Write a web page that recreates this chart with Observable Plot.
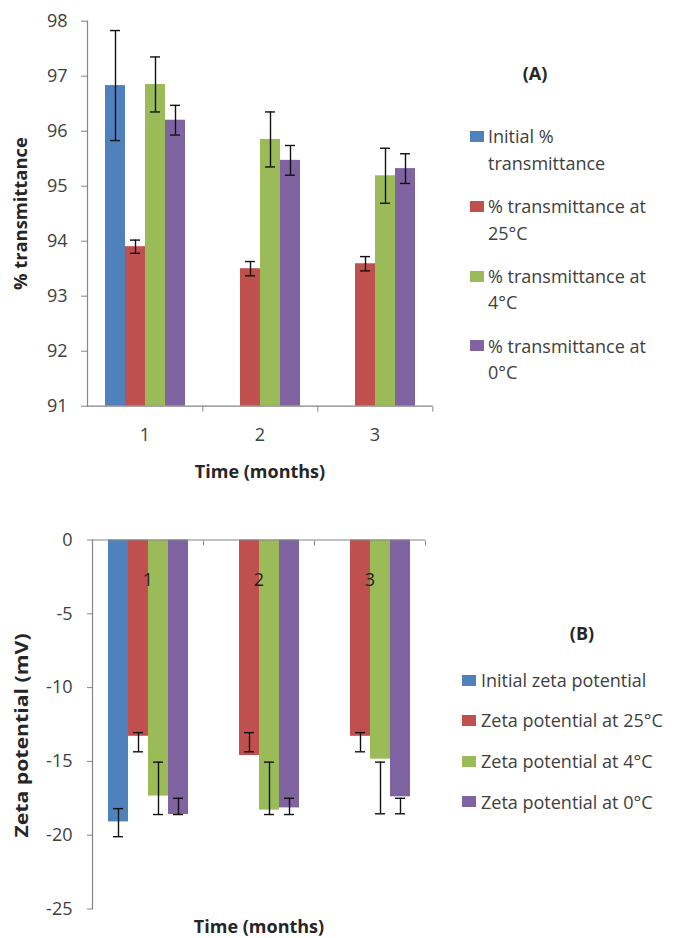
<!DOCTYPE html>
<html>
<head>
<meta charset="utf-8">
<script src="https://cdn.jsdelivr.net/npm/d3@7"></script>
<script src="https://cdn.jsdelivr.net/npm/@observablehq/plot@0.6"></script>
<style>
  body { margin: 0; background: #fff; }
  #root { position: relative; width: 689px; height: 938px; overflow: hidden;
          font-family: "Open Sans", sans-serif; color: #404040; }
  .abs { position: absolute; }
  .panel { font-weight: bold; font-size: 18px; color: #262626; transform: translate(-50%, -50%); white-space: nowrap; }
  .item { position: absolute; font-size: 18px; line-height: 26.5px; }
  .sw { position: absolute; width: 14px; height: 11px; }
  svg { overflow: visible; }
</style>
</head>
<body>
<div id="root"></div>
<script>
// ---------- data ----------
const months = ["1", "2", "3"];
const colors = ["#4F81BD", "#C0504D", "#9BBB59", "#8064A2"];

// Panel A: % transmittance
const transSeries = ["Initial % transmittance", "% transmittance at 25°C", "% transmittance at 4°C", "% transmittance at 0°C"];
const transInitial = [96.83, null, null];
const trans25 = [93.90, 93.50, 93.59];
const trans4 = [96.85, 95.85, 95.19];
const trans0 = [96.20, 95.47, 95.32];
const transInitialErr = [1.0, null, null];
const trans25Err = [0.12, 0.13, 0.13];
const trans4Err = [0.50, 0.50, 0.50];
const trans0Err = [0.27, 0.27, 0.27];
const transTicks = [91, 92, 93, 94, 95, 96, 97, 98];
const transBase = 91;

// Panel B: zeta potential (mV)
const zetaSeries = ["Initial zeta potential", "Zeta potential at 25°C", "Zeta potential at 4°C", "Zeta potential at 0°C"];
const zetaInitial = [-19.1, null, null];
const zeta25 = [-13.3, -14.6, -13.3];
const zeta4 = [-17.35, -18.3, -14.85];
const zeta0 = [-18.6, -18.15, -17.4];
// error bar ends [low, high]
const zetaInitialErr = [[-20.1, -18.2], null, null];
const zeta25Err = [[-14.35, -13.05], [-14.35, -13.05], [-14.35, -13.05]];
const zeta4Err = [[-18.6, -15.05], [-18.6, -15.05], [-18.55, -15.05]];
const zeta0Err = [[-18.6, -17.5], [-18.6, -17.5], [-18.55, -17.5]];
const zetaTicks = [-25, -20, -15, -10, -5, 0];

// ---------- tables ----------
const transValues = [transInitial, trans25, trans4, trans0];
const transErrs = [transInitialErr, trans25Err, trans4Err, trans0Err];
const rowsA = transSeries.flatMap((s, i) => months.map((m, j) => ({
  month: m, series: s, value: transValues[i][j], err: transErrs[i][j]
}))).filter(d => d.value != null).map(d => ({...d, lo: d.value - d.err, hi: d.value + d.err}));

const zetaValues = [zetaInitial, zeta25, zeta4, zeta0];
const zetaErrs = [zetaInitialErr, zeta25Err, zeta4Err, zeta0Err];
const rowsB = zetaSeries.flatMap((s, i) => months.map((m, j) => ({
  month: m, series: s, value: zetaValues[i][j], err: zetaErrs[i][j]
}))).filter(d => d.value != null).map(d => ({...d, lo: d.err[0], hi: d.err[1]}));

const root = document.getElementById("root");
const axisGray = "#868686";
const textCol = "#404040";
const plainNum = d => String(d);

function styleLabels(svg, yShift, yStretch) {
  const s = d3.select(svg);
  s.selectAll('[aria-label="fx-axis label"] text').attr("font-weight", "bold").attr("fill", "#262626");
  s.selectAll('[aria-label="y-axis label"] text').each(function () {
    const t = d3.select(this);
    t.attr("font-weight", "bold").attr("fill", "#262626");
    const tr = t.attr("transform") || "";
    t.attr("transform", tr + ` translate(${-yShift},0) scale(${yStretch},1)`);
  });
}

// ---------- Panel A ----------
{
  const W = 689, H = 490, mL = 86, mR = 256;
  const bw = (W - mL - mR) / months.length;
  const chart = Plot.plot({
    width: W, height: H,
    marginLeft: mL, marginRight: mR, marginTop: 20.7, marginBottom: H - 405.7,
    style: { fontFamily: "Open Sans", fontSize: "18px", color: textCol, background: "transparent", overflow: "visible" },
    fx: { domain: months, padding: 0 },
    x: { domain: transSeries, paddingInner: 0, paddingOuter: 0.79, axis: null },
    y: { domain: [91, 98] },
    color: { domain: transSeries, range: colors },
    marks: [
      Plot.barY(rowsA, { fx: "month", x: "series", y1: transBase, y2: "value", fill: "series" }),
      Plot.ruleX(rowsA, { fx: "month", x: "series", y1: "lo", y2: "hi", stroke: "#111", strokeWidth: 1.4 }),
      Plot.tickY(rowsA, { fx: "month", x: "series", y: "lo", stroke: "#111", strokeWidth: 1.4, insetLeft: 5, insetRight: 5 }),
      Plot.tickY(rowsA, { fx: "month", x: "series", y: "hi", stroke: "#111", strokeWidth: 1.4, insetLeft: 5, insetRight: 5 }),
      Plot.ruleY([transBase], { stroke: axisGray, strokeWidth: 1.2 }),
      Plot.frame({ anchor: "left", facetAnchor: "left", stroke: axisGray, strokeWidth: 1.2 }),
      Plot.axisY({ ticks: transTicks, tickFormat: plainNum, tickSize: 6, tickPadding: 14, stroke: axisGray, fill: textCol,
        label: "% transmittance", labelArrow: "none", labelAnchor: "center", labelOffset: 73 }),
      Plot.axisFx({ anchor: "bottom", tickSize: 0, tickPadding: 22, fill: textCol,
        label: "Time (months)", labelAnchor: "center", labelOffset: 72 }),
      Plot.axisFx({ anchor: "bottom", tickSize: 6, tickFormat: () => "", dx: bw / 2, stroke: axisGray, label: null })
    ]
  });
  chart.style.position = "absolute"; chart.style.left = "0px"; chart.style.top = "0px";
  styleLabels(chart, 0, 1.02);
  root.appendChild(chart);
}

// ---------- Panel B ----------
{
  const W = 689, H = 438, mL = 92, mR = 264, top = 500;
  const bw = (W - mL - mR) / months.length;
  const chart = Plot.plot({
    width: W, height: H,
    marginLeft: mL, marginRight: mR, marginTop: 539.5 - top, marginBottom: H - (908.5 - top),
    style: { fontFamily: "Open Sans", fontSize: "18px", color: textCol, background: "transparent", overflow: "visible" },
    fx: { domain: months, padding: 0 },
    x: { domain: zetaSeries, paddingInner: 0, paddingOuter: 0.775, axis: null },
    y: { domain: [-25, 0] },
    color: { domain: zetaSeries, range: colors },
    marks: [
      Plot.barY(rowsB, { fx: "month", x: "series", y1: 0, y2: "value", fill: "series" }),
      Plot.ruleX(rowsB, { fx: "month", x: "series", y1: "lo", y2: "hi", stroke: "#111", strokeWidth: 1.4 }),
      Plot.tickY(rowsB, { fx: "month", x: "series", y: "lo", stroke: "#111", strokeWidth: 1.4, insetLeft: 5, insetRight: 5 }),
      Plot.tickY(rowsB, { fx: "month", x: "series", y: "hi", stroke: "#111", strokeWidth: 1.4, insetLeft: 5, insetRight: 5 }),
      Plot.ruleY([0], { stroke: axisGray, strokeWidth: 1.2 }),
      Plot.frame({ anchor: "left", facetAnchor: "left", stroke: axisGray, strokeWidth: 1.2 }),
      Plot.text(months, { fx: d => d, text: d => d, frameAnchor: "top", dy: 33, fill: "#222", fontSize: 18 }),
      Plot.axisY({ ticks: zetaTicks, tickFormat: plainNum, tickSize: 5, tickPadding: 15, stroke: axisGray, fill: textCol,
        label: "Zeta potential (mV)", labelArrow: "none", labelAnchor: "center", labelOffset: 77 }),
      Plot.axisFx({ anchor: "top", tickSize: -5, tickFormat: () => "", dx: bw / 2, stroke: axisGray, label: null }),
      Plot.axisFx({ anchor: "bottom", tickSize: 0, tickFormat: () => "", fill: textCol,
        label: "Time (months)", labelAnchor: "center", labelOffset: 24 })
    ]
  });
  chart.style.position = "absolute"; chart.style.left = "0px"; chart.style.top = top + "px";
  styleLabels(chart, 11, 1.18);
  root.appendChild(chart);
}

// ---------- titles & legends ----------
function addDiv(cls, html, left, top, extra) {
  const d = document.createElement("div");
  d.className = cls; d.innerHTML = html;
  d.style.left = left + "px"; d.style.top = top + "px";
  if (extra) Object.assign(d.style, extra);
  root.appendChild(d);
  return d;
}
addDiv("abs panel", "(A)", 535, 73);
addDiv("abs panel", "(B)", 582, 633);

// Legend A (wrapped labels)
transSeries.forEach((s, i) => {
  const lineCenter = 136.7 + i * 69.7;
  const sw = addDiv("sw", "", 470, lineCenter - 5.5);
  sw.style.background = colors[i];
  addDiv("item", s, 488, lineCenter - 13.25, { width: "186px" });
});

// Legend B
zetaSeries.forEach((s, i) => {
  const lineCenter = 680 + i * 40.6;
  const sw = addDiv("sw", "", 462, lineCenter - 5.5);
  sw.style.background = colors[i];
  addDiv("item", s, 481, lineCenter - 13.25, { whiteSpace: "nowrap" });
});
</script>
</body>
</html>
